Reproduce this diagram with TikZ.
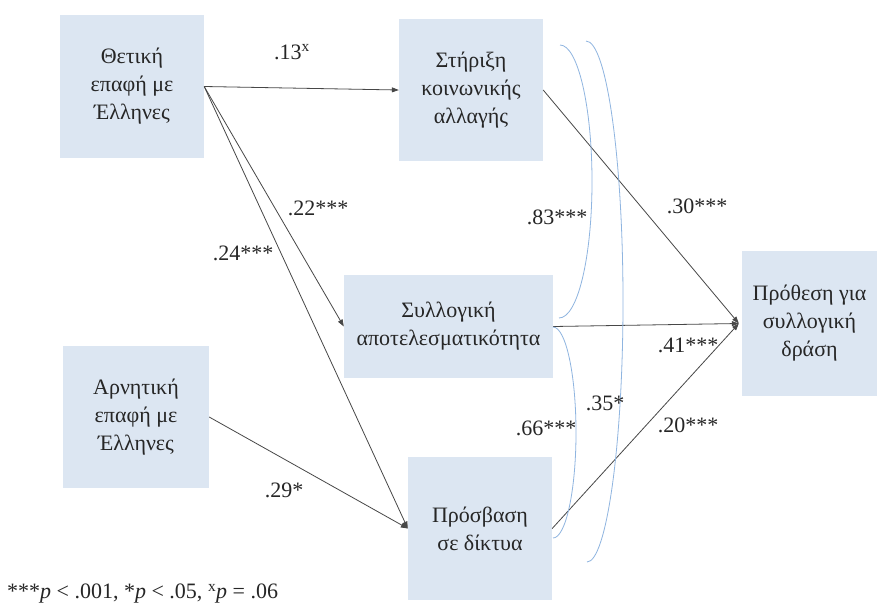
\documentclass[tikz,border=0pt]{standalone}
\usepackage{fontspec}
\setmainfont{Liberation Serif}
\usetikzlibrary{arrows.meta}
\definecolor{boxblue}{HTML}{DCE6F2}
\definecolor{corrblue}{HTML}{8FB5E0}
\definecolor{txtgray}{HTML}{262626}
\begin{document}
\begin{tikzpicture}[x=1pt,y=-1pt,
  font=\fontsize{22}{28}\selectfont,
  varbox/.style={fill=boxblue, draw=none, align=center, text=txtgray, inner sep=0pt},
  coef/.style={text=txtgray, inner sep=0pt},
  pathline/.style={draw=black!72, line width=0.8pt, -{Triangle[length=7pt,width=5pt]}},
  corr/.style={draw=corrblue, line width=0.8pt}]
\useasboundingbox[fill=white] (0,0) rectangle (877,608);

% variable boxes
\node[varbox, minimum width=144pt, minimum height=143pt] (thet) at (132,86.5) {Θετική\\επαφή με\\Έλληνες};
\node[varbox, minimum width=146pt, minimum height=142pt] (arn) at (136,417) {Αρνητική\\επαφή με\\Έλληνες};
\node[varbox, minimum width=144pt, minimum height=142pt] (stir) at (471,90) {Στήριξη\\κοινωνικής\\αλλαγής};
\node[varbox, minimum width=209pt, minimum height=103pt] (syl) at (448.5,326.5) {Συλλογική\\αποτελεσματικότητα};
\node[varbox, minimum width=144pt, minimum height=143pt] (pros) at (480,528.5) {Πρόσβαση\\σε δίκτυα};
\node[varbox, minimum width=135pt, minimum height=145pt] (proth) at (809.5,323.5) {Πρόθεση για\\συλλογική\\δράση};

\coordinate (conv) at ([xshift=-3pt]proth.west);

% paths
\draw[pathline] (thet.east) -- (stir.west);
\draw[pathline] (thet.east) -- (syl.west);
\draw[pathline] (thet.east) -- (pros.west);
\draw[pathline] (arn.east) -- (pros.west);
\draw[pathline] (stir.east) -- (conv);
\draw[pathline] (syl.east) -- (conv);
\draw[pathline] (pros.east) -- (conv);

% correlation curves
\coordinate (c1a) at (560,45);   \coordinate (c1b) at (559,318);
\coordinate (c2a) at (553,327);  \coordinate (c2b) at (553,538);
\coordinate (c3a) at (586,41);   \coordinate (c3b) at (587,562);
\draw[corr] (c1a) .. controls (577.7,45) and (592,106) .. (592,181.5)
                  .. controls (592,257) and (577.7,318) .. (c1b);
\draw[corr] (c2a) .. controls (565.7,327) and (576,374.2) .. (576,432.5)
                  .. controls (576,490.8) and (565.7,538) .. (c2b);
\draw[corr] (c3a) .. controls (606.4,41) and (623,157.6) .. (623,301.5)
                  .. controls (623,445.4) and (606.4,562) .. (c3b);

% coefficients
\node[coef] (l13) at (292,52) {.13\textsuperscript{x}};
\node[coef] (l22) at (318,208) {.22***};
\node[coef] (l24) at (243,253) {.24***};
\node[coef] (l29) at (284,490) {.29*};
\node[coef] (l30) at (697,206) {.30***};
\node[coef] (l41) at (688,345) {.41***};
\node[coef] (l20) at (688,425) {.20***};
\node[coef] (l83) at (557,217) {.83***};
\node[coef] (l66) at (546,428) {.66***};
\node[coef] (l35) at (605,403) {.35*};
\node[coef, anchor=west] (note) at (7,594) {***\textit{p} < .001, *\textit{p} < .05, \textsuperscript{x}\textit{p} = .06};
\end{tikzpicture}
\end{document}
